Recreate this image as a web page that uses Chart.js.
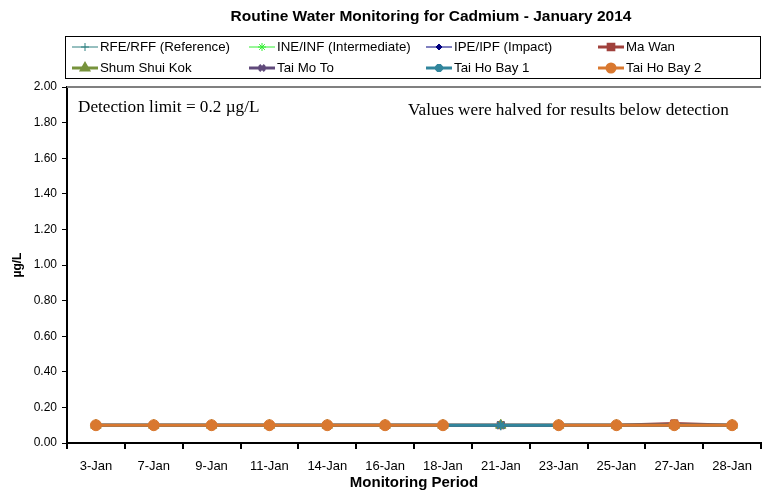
<!DOCTYPE html>
<html>
<head>
<meta charset="utf-8">
<script src="https://cdn.jsdelivr.net/npm/chart.js@4.4.1/dist/chart.umd.min.js"></script>
<style>
  html, body { margin: 0; padding: 0; background: #fff; }
  #wrap { width: 762px; height: 491px; position: relative; }
</style>
</head>
<body>
<div id="wrap"><canvas id="c"></canvas></div>
<script>
// ── Data ─────────────────────────────────────────────────────
const dates = ['3-Jan', '7-Jan', '9-Jan', '11-Jan', '14-Jan', '16-Jan',
               '18-Jan', '21-Jan', '23-Jan', '25-Jan', '27-Jan', '28-Jan'];

const rfeRff      = [null, null, null, null, null, null, null, null, null, null, null, null];
const ineInf      = [null, null, null, null, null, null, null, null, null, null, null, null];
const ipeIpf      = [null, null, null, null, null, null, null, null, null, null, null, null];
const maWan       = [0.1, 0.1, 0.1, 0.1, 0.1, 0.1, 0.1, 0.1, 0.1, 0.1, 0.11, 0.1];
const shumShuiKok = [0.1, 0.1, 0.1, 0.1, 0.1, 0.1, 0.1, 0.1, 0.1, 0.1, 0.1, 0.1];
const taiMoTo     = [0.1, 0.1, 0.1, 0.1, 0.1, 0.1, 0.1, 0.1, 0.1, 0.1, 0.1, 0.1];
const taiHoBay1   = [0.1, 0.1, 0.1, 0.1, 0.1, 0.1, 0.1, 0.1, 0.1, 0.1, 0.1, 0.1];
const taiHoBay2   = [0.1, 0.1, 0.1, 0.1, 0.1, 0.1, 0.1, null, 0.1, 0.1, 0.1, 0.1];

const yTicks = [0, 0.2, 0.4, 0.6, 0.8, 1.0, 1.2, 1.4, 1.6, 1.8, 2.0];

const FONT = '"Liberation Sans", Arial, sans-serif';
const SERIF = '"Liberation Serif", "Times New Roman", serif';

// ── Series styles ───────────────────────────────────────────
function series(label, data, color, width, style, radius) {
  return {
    label, data,
    borderColor: color,
    backgroundColor: color,
    borderWidth: width,
    pointStyle: style,
    pointRadius: radius,
    pointBorderWidth: style === 'cross' || style === 'crossRot' || style === 'star' ? 1.5 : 1,
    pointBorderColor: color,
    pointBackgroundColor: color,
    spanGaps: false,
    tension: 0,
  };
}

const datasets = [
  series('RFE/RFF (Reference)',     rfeRff,      '#2E8080', 1,   'cross',    4),
  series('INE/INF (Intermediate)',  ineInf,      '#33EE33', 1,   'star',     4),
  series('IPE/IPF (Impact)',        ipeIpf,      '#000080', 1,   'rectRot',  3),
  series('Ma Wan',                  maWan,       '#A0413C', 3,   'rect',     5),
  series('Shum Shui Kok',           shumShuiKok, '#77933C', 3,   'triangle', 6),
  series('Tai Mo To',               taiMoTo,     '#604A7B', 3,   'crossRot', 5),
  series('Tai Ho Bay 1',            taiHoBay1,   '#31859C', 3,   'star',     5),
  series('Tai Ho Bay 2',            taiHoBay2,   '#D9782F', 3,   'circle',   5.5),
];
// later series drawn on top, like the spreadsheet
datasets.forEach((d, i) => { d.order = datasets.length - i; });

// ── Decorations: title, legend box, notes, top frame ────────
const legendCols = [72, 249, 426, 598];
const legendRows = [47, 68];

const decor = {
  id: 'decor',
  afterDraw(chart) {
    const ctx = chart.ctx;
    const a = chart.chartArea;
    ctx.save();

    // top frame line
    ctx.strokeStyle = '#808080';
    ctx.lineWidth = 2;
    ctx.beginPath();
    ctx.moveTo(a.left, a.top);
    ctx.lineTo(a.right, a.top);
    ctx.stroke();

    // title
    ctx.fillStyle = '#000';
    ctx.font = 'bold 15.5px ' + FONT;
    ctx.textAlign = 'center';
    ctx.textBaseline = 'middle';
    ctx.fillText('Routine Water Monitoring for Cadmium - January 2014', 431, 17);

    // legend box
    ctx.strokeStyle = '#000';
    ctx.lineWidth = 1;
    ctx.strokeRect(65.5, 36.5, 695, 42);

    ctx.font = '13.3px ' + FONT;
    ctx.textAlign = 'left';
    datasets.forEach((d, i) => {
      const x = legendCols[i % 4];
      const y = legendRows[Math.floor(i / 4)];
      ctx.strokeStyle = d.borderColor;
      ctx.fillStyle = d.borderColor;
      ctx.lineWidth = d.borderWidth;
      ctx.beginPath();
      ctx.moveTo(x, y);
      ctx.lineTo(x + 26, y);
      ctx.stroke();
      Chart.helpers.drawPoint(ctx, {
        pointStyle: d.pointStyle,
        radius: Math.min(d.pointRadius, 4),
        borderWidth: 1,
        rotation: 0,
      }, x + 13, y);
      ctx.fillStyle = '#000';
      ctx.fillText(d.label, x + 28, y);
    });

    // notes
    ctx.font = '17.2px ' + SERIF;
    ctx.fillText('Detection limit = 0.2 \u00b5g/L', 78, 107);
    ctx.fillText('Values were halved for results below detection', 408, 110);

    ctx.restore();
  },
};

new Chart(document.getElementById('c'), {
  type: 'line',
  data: { labels: dates, datasets },
  options: {
    responsive: true,
    maintainAspectRatio: false,
    animation: false,
    devicePixelRatio: 1,
    layout: { autoPadding: false, padding: { top: 87, left: 0, right: 0, bottom: 0 } },
    plugins: {
      legend: { display: false },
      tooltip: { enabled: false },
      title: { display: false },
    },
    scales: {
      x: {
        type: 'category',
        offset: true,
        afterFit: (s) => { s.height = 48; },
        grid: {
          offset: true,
          drawOnChartArea: false,
          drawTicks: true,
          tickLength: 6,
          color: '#000',
          lineWidth: 2,
        },
        border: { display: true, color: '#000', width: 2 },
        ticks: {
          color: '#000',
          font: { family: FONT, size: 13 },
          padding: 10,
          maxRotation: 0,
          autoSkip: false,
        },
        title: {
          display: true,
          text: 'Monitoring Period',
          color: '#000',
          font: { family: FONT, size: 15, weight: 'bold' },
          padding: { top: 0, bottom: -1 },
        },
      },
      y: {
        min: 0,
        max: 2,
        afterFit: (s) => { s.width = 67; },
        afterBuildTicks: (s) => { s.ticks = yTicks.map(v => ({ value: v })); },
        grid: {
          drawOnChartArea: false,
          drawTicks: true,
          tickLength: 5,
          color: '#000',
          lineWidth: 1,
        },
        border: { display: true, color: '#000', width: 2 },
        ticks: {
          color: '#000',
          font: { family: FONT, size: 12 },
          padding: 5,
          callback: (v) => Number(v).toFixed(2),
        },
        title: {
          display: true,
          text: '\u00b5g/L',
          color: '#000',
          font: { family: FONT, size: 12, weight: 'bold' },
          padding: { top: 10, bottom: 0 },
        },
      },
    },
  },
  plugins: [decor],
});
</script>
</body>
</html>
